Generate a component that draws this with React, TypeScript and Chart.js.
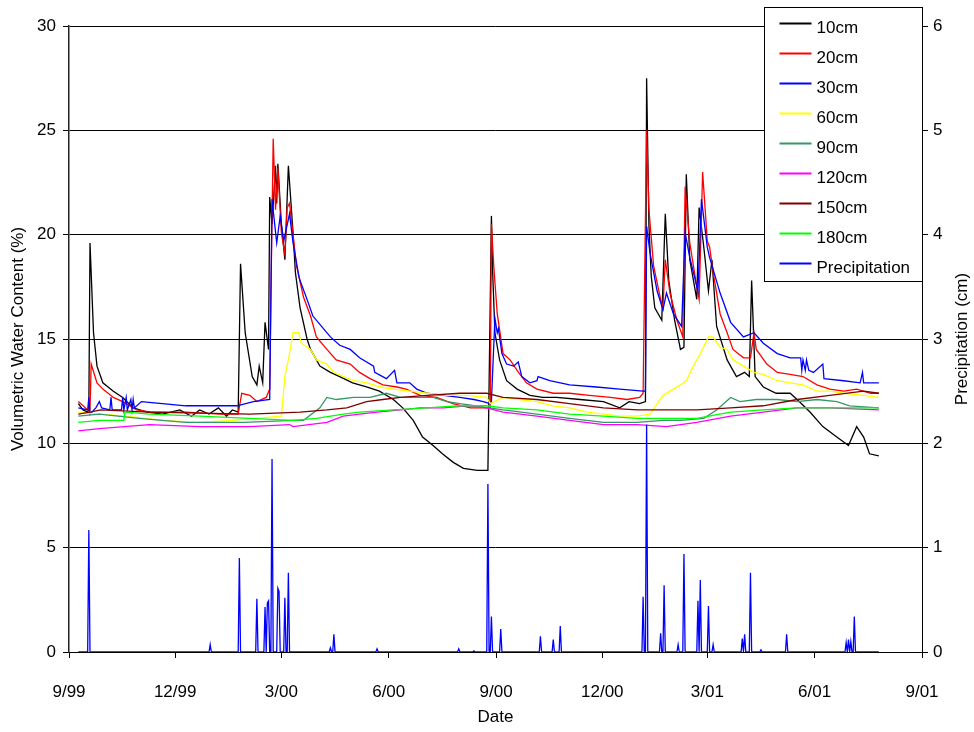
import React, { useEffect, useRef } from 'react';
import { Chart, registerables } from 'chart.js';

Chart.register(...registerables);

// X axis: days since 1 Sep 1999
const tickDays = [0, 91, 182, 274, 366, 457, 547, 639, 731];
const tickLabels = ['9/99', '12/99', '3/00', '6/00', '9/00', '12/00', '3/01', '6/01', '9/01'];

const seriesNames = ['10cm', '20cm', '30cm', '60cm', '90cm', '120cm', '150cm', '180cm', 'Precipitation'];
const seriesColors = ['#000000', '#FF0000', '#0000FF', '#FFFF00', '#339966', '#FF00FF', '#800000', '#00FF00', '#0000FF'];

const d10 = [8,12,16,17,18,21,24,29,38,46,55,67,80,95,105,112,120,128,135,140,145,147,151,157,161,163,166,168,171,172,174,177,178,179,182,185,188,192,194,198,204,207,215,224,232,243,255,266,278,286,295,303,312,320,329,338,350,359,362,363,365,369,375,384,395,406,418,438,458,472,480,489,494,495,497,499,502,508,511,514,519,524,527,529,532,538,540,544,548,551,555,564,572,579,583,585,588,595,606,618,624,635,646,658,668,675,681,686,694];
const v10 = [11.9,11.6,11.5,11.6,19.6,15.3,13.7,12.9,12.5,12.2,11.7,11.5,11.4,11.6,11.3,11.6,11.4,11.7,11.3,11.6,11.5,18.6,15.3,13.2,12.8,13.7,12.9,15.8,14.5,21.8,20.5,23.3,21.5,23.4,20.5,18.8,23.3,20.1,18.2,16.5,15.0,14.5,13.7,13.4,13.2,12.9,12.7,12.5,12.1,11.7,11.1,10.3,9.9,9.5,9.1,8.8,8.7,8.7,20.9,18.3,15.3,14.0,13.0,12.6,12.3,12.2,12.2,12.1,12.0,11.7,12.0,11.9,12.0,27.5,20.4,18.0,16.5,15.9,21.0,17.8,15.9,14.5,14.6,22.9,18.8,16.9,21.3,19.4,17.3,18.8,15.6,14.0,13.2,13.4,13.2,17.8,13.2,12.7,12.4,12.4,12.1,11.5,10.8,10.3,9.9,10.8,10.3,9.5,9.4];

const d20 = [8,16,18,19,24,29,38,46,58,70,100,130,145,148,155,161,169,172,173,175,177,179,182,185,187,189,195,201,207,212,221,229,241,249,258,269,281,289,301,315,329,344,358,361,362,364,367,372,378,384,392,401,415,429,446,464,478,489,492,495,497,501,507,509,511,515,521,526,528,532,538,540,543,547,549,552,558,564,569,578,584,587,589,598,607,618,629,641,652,664,675,687,694];
const v20 = [12.0,11.6,11.6,13.8,12.9,12.6,12.2,12.0,11.6,11.5,11.5,11.4,11.4,12.4,12.3,12.0,12.2,12.6,17.0,24.6,21.2,23.2,20.1,19.1,21.3,21.5,18.5,17.0,16.1,15.1,14.5,14.0,13.8,13.4,13.1,12.8,12.7,12.6,12.3,12.2,11.9,11.7,11.7,11.7,20.5,18.5,16.2,14.3,14.0,13.5,12.9,12.6,12.4,12.4,12.3,12.2,12.1,12.2,12.4,25.0,21.2,18.5,16.9,16.5,18.8,17.2,15.9,15.1,22.3,19.6,17.5,16.9,23.0,19.7,19.4,18.2,16.2,15.3,14.5,14.1,14.1,15.3,14.5,13.8,13.4,13.3,13.2,12.8,12.6,12.5,12.6,12.4,12.4];

const d30 = [8,16,17,18,23,26,28,35,36,37,45,46,47,49,50,53,54,55,56,62,80,100,121,144,158,172,174,178,181,184,189,192,197,198,204,209,215,224,232,241,249,261,262,272,279,281,292,298,307,321,335,347,355,361,362,365,367,368,371,375,381,385,388,395,401,402,412,421,429,452,472,492,494,495,498,504,509,512,518,525,528,532,539,542,547,549,558,567,578,587,595,607,618,627,628,629,631,632,634,638,646,647,664,678,680,681,694];
const v30 = [11.7,11.6,12.2,11.4,11.7,12.0,11.7,11.6,12.2,11.6,11.6,12.2,11.6,12.2,11.6,12.1,11.6,12.1,11.7,12.0,11.9,11.8,11.8,11.8,12.0,12.1,21.7,19.6,20.9,19.7,21.0,19.6,18.0,17.8,16.9,16.1,15.7,15.1,14.7,14.5,14.1,13.7,13.4,13.1,13.5,12.9,12.9,12.6,12.4,12.3,12.2,12.1,12.0,11.9,12.0,16.0,15.3,15.5,14.3,13.8,13.7,13.9,13.2,12.9,13.0,13.2,13.0,12.9,12.8,12.7,12.6,12.5,12.5,20.4,19.1,17.3,16.4,17.2,16.2,15.6,20.1,18.9,17.3,21.7,19.4,18.9,17.2,15.8,15.1,15.3,14.8,14.3,14.1,14.1,13.5,14.0,13.5,14.0,13.5,13.4,13.8,13.1,13.0,12.9,13.4,12.9,12.9];

const d60 = [8,26,50,80,110,140,160,182,185,189,192,197,199,207,212,221,227,235,244,255,267,278,292,307,324,341,358,361,372,386,401,415,429,444,458,472,487,498,504,509,518,524,529,535,541,548,552,558,564,569,578,587,595,607,618,629,641,652,664,681,694];
const v60 = [11.5,11.4,11.3,11.1,11.0,11.1,11.2,11.3,13.2,14.3,15.3,15.3,14.8,14.5,14.0,13.8,13.4,13.2,13.0,12.9,12.7,12.6,12.5,12.4,12.3,12.3,12.2,11.9,12.2,12.1,12.0,11.8,11.7,11.5,11.4,11.3,11.3,11.4,11.9,12.3,12.6,12.8,13.0,13.7,14.3,15.1,15.1,14.6,14.5,14.0,13.7,13.4,13.3,13.0,12.9,12.8,12.5,12.5,12.4,12.3,12.2];

const d90 = [8,26,60,100,150,192,201,215,221,229,244,258,272,284,295,312,324,335,349,372,401,429,458,487,509,524,544,555,567,575,589,607,624,641,658,669,694];
const v90 = [11.3,11.4,11.2,11.0,11.0,11.1,11.1,11.7,12.2,12.1,12.2,12.2,12.4,12.2,12.2,12.2,12.0,11.9,11.8,11.6,11.4,11.2,11.0,11.0,11.1,11.1,11.2,11.6,12.2,12.0,12.1,12.1,12.0,12.1,12.0,11.8,11.7];

const d120 = [8,26,69,112,155,189,192,221,235,249,264,284,301,321,341,358,372,401,429,458,487,512,538,567,595,624,652,694];
const v120 = [10.6,10.7,10.9,10.8,10.8,10.9,10.8,11.0,11.3,11.4,11.5,11.6,11.7,11.7,11.8,11.7,11.5,11.3,11.1,10.9,10.9,10.8,11.0,11.3,11.5,11.7,11.7,11.6];

const d150 = [8,18,27,69,155,198,221,238,255,269,284,307,335,358,372,401,429,458,487,512,538,567,595,624,652,681,694];
const v150 = [11.4,11.5,11.6,11.5,11.4,11.5,11.6,11.7,12.0,12.1,12.2,12.3,12.4,12.4,12.2,12.1,11.9,11.7,11.6,11.6,11.6,11.7,11.8,12.1,12.3,12.5,12.4];

const d180 = [8,26,47,48,69,112,155,192,212,235,249,278,307,335,358,372,401,429,458,487,512,538,567,595,624,652,694];
const v180 = [11.0,11.1,11.1,11.5,11.4,11.3,11.2,11.1,11.2,11.4,11.5,11.6,11.7,11.8,11.8,11.7,11.6,11.4,11.3,11.2,11.2,11.2,11.5,11.6,11.7,11.7,11.7];

// Precipitation (cm): rain days; all other days in the record are 0
const precipFirstDay = 8;
const precipLastDay = 694;
const precipDays = [17,121,146,161,168,170,171,174,179,180,185,188,224,227,264,334,347,359,362,370,404,415,421,492,495,507,510,522,527,539,541,548,552,577,579,584,593,615,666,668,670,673];
const precipCm = [1.17,0.07,0.90,0.51,0.43,0.47,0.49,1.85,0.61,0.58,0.52,0.76,0.04,0.17,0.03,0.03,0.01,1.61,0.34,0.22,0.15,0.12,0.25,0.53,2.18,0.18,0.64,0.07,0.94,0.49,0.69,0.44,0.07,0.13,0.17,0.76,0.02,0.17,0.09,0.12,0.10,0.34];

const FONT = '"Liberation Sans", Arial, Helvetica, sans-serif';

function pairs(days: number[], vals: number[]) {
  return days.map((d, i) => ({ x: d, y: vals[i] }));
}

function dailyPrecip() {
  const map = new Map<number, number>();
  precipDays.forEach((d, i) => map.set(d, precipCm[i]));
  const out: { x: number; y: number }[] = [];
  for (let d = precipFirstDay; d <= precipLastDay; d++) out.push({ x: d, y: map.get(d) ?? 0 });
  return out;
}

const overlayPlugin = {
  id: 'overlay',
  afterDraw(chart: any) {
    const ctx = chart.ctx as CanvasRenderingContext2D;
    const ca = chart.chartArea;
    ctx.save();
    // right axis title, reading bottom to top
    ctx.font = `17px ${FONT}`;
    ctx.fillStyle = '#000';
    ctx.textAlign = 'center';
    ctx.textBaseline = 'middle';
    ctx.translate(ca.right + 40, (ca.top + ca.bottom) / 2);
    ctx.rotate(-Math.PI / 2);
    ctx.fillText('Precipitation (cm)', 0, 0);
    ctx.restore();

    // legend box
    ctx.save();
    const bx = Math.round(ca.right - 158) + 0.5;
    const by = Math.round(ca.top - 19) + 0.5;
    const bw = 158;
    const bh = 274;
    ctx.fillStyle = '#fff';
    ctx.fillRect(bx, by, bw, bh);
    ctx.strokeStyle = '#000';
    ctx.lineWidth = 1;
    ctx.strokeRect(bx, by, bw, bh);
    ctx.font = `17px ${FONT}`;
    ctx.textAlign = 'left';
    ctx.textBaseline = 'middle';
    seriesNames.forEach((name, i) => {
      const ly = by + 16 + i * 30;
      ctx.strokeStyle = seriesColors[i];
      ctx.lineWidth = 2;
      ctx.beginPath();
      ctx.moveTo(bx + 15, ly);
      ctx.lineTo(bx + 47, ly);
      ctx.stroke();
      ctx.fillStyle = '#000';
      ctx.fillText(name, bx + 52, ly + 5);
    });
    ctx.restore();
  },
};

export default function App() {
  const ref = useRef<HTMLCanvasElement | null>(null);

  useEffect(() => {
    if (!ref.current) return;
    const soil = [
      pairs(d10, v10), pairs(d20, v20), pairs(d30, v30), pairs(d60, v60),
      pairs(d90, v90), pairs(d120, v120), pairs(d150, v150), pairs(d180, v180),
    ];
    const datasets: any[] = soil.map((data, i) => ({
      label: seriesNames[i],
      data,
      borderColor: seriesColors[i],
      backgroundColor: seriesColors[i],
      borderWidth: 1.3,
      pointRadius: 0,
      tension: 0,
      yAxisID: 'y',
      order: 100 - i,
    }));
    datasets.push({
      label: seriesNames[8],
      data: dailyPrecip(),
      borderColor: seriesColors[8],
      backgroundColor: seriesColors[8],
      borderWidth: 1.3,
      pointRadius: 0,
      tension: 0,
      yAxisID: 'y1',
      order: 0,
    });

    const tickFont = { family: FONT, size: 17 };
    const chart = new Chart(ref.current, {
      type: 'line',
      data: { datasets },
      plugins: [overlayPlugin],
      options: {
        animation: false,
        responsive: true,
        maintainAspectRatio: false,
        layout: { padding: { top: 26, left: 0, right: 0, bottom: 0 } },
        plugins: { legend: { display: false }, tooltip: { enabled: false } },
        scales: {
          x: {
            type: 'linear',
            min: 0,
            max: 731,
            afterBuildTicks: (scale: any) => {
              scale.ticks = tickDays.map((v) => ({ value: v }));
            },
            afterFit: (scale: any) => {
              scale.height = 80;
            },
            ticks: {
              autoSkip: false,
              maxRotation: 0,
              color: '#000',
              font: tickFont,
              padding: 24,
              callback: (v: any) => {
                const i = tickDays.indexOf(Number(v));
                return i >= 0 ? tickLabels[i] : '';
              },
            },
            grid: { drawOnChartArea: false, drawTicks: true, tickLength: 6, color: '#000' },
            border: { display: true, color: '#000', width: 1 },
            title: { display: true, text: 'Date', color: '#000', font: tickFont, padding: { top: 0, bottom: 4 } },
          },
          y: {
            position: 'left',
            min: 0,
            max: 30,
            afterFit: (scale: any) => {
              scale.width = 69;
            },
            ticks: { stepSize: 5, color: '#000', font: tickFont, padding: 7 },
            grid: { color: '#000', lineWidth: 1, tickLength: 6 },
            border: { display: true, color: '#222', width: 1.5 },
            title: {
              display: true,
              text: 'Volumetric Water Content (%)',
              color: '#000',
              font: tickFont,
              padding: { top: 8, bottom: 0 },
            },
          },
          y1: {
            position: 'right',
            min: 0,
            max: 6,
            afterFit: (scale: any) => {
              scale.width = 52;
            },
            ticks: { stepSize: 1, color: '#000', font: tickFont, padding: 5 },
            grid: { drawOnChartArea: false, color: '#000', tickLength: 6 },
            border: { display: true, color: '#000', width: 1 },
          },
        },
      },
    } as any);
    return () => chart.destroy();
  }, []);

  return (
    <div style={{ position: 'fixed', left: 0, top: 0, width: 974, height: 732, background: '#fff' }}>
      <canvas ref={ref} />
    </div>
  );
}
